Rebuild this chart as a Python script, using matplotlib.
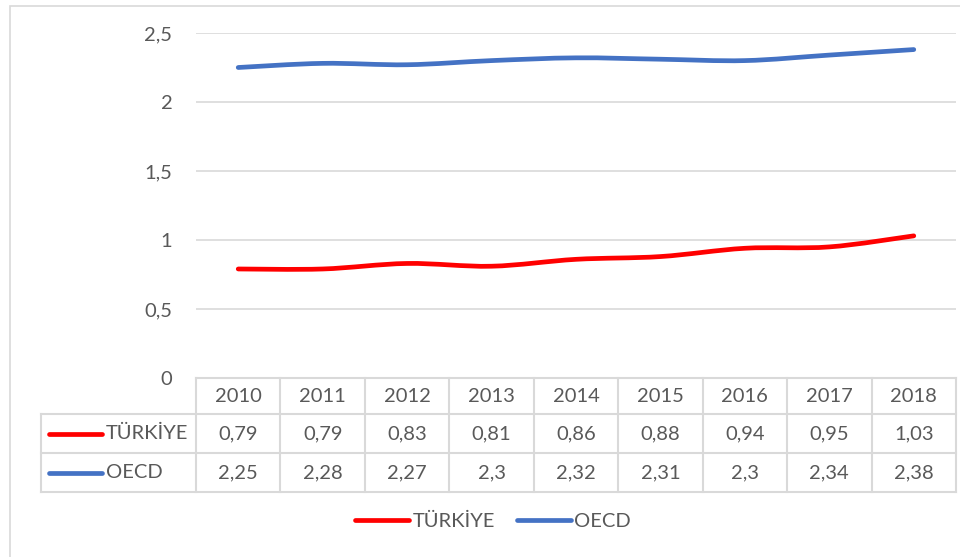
import numpy as np
import matplotlib
matplotlib.use("Agg")
import matplotlib.pyplot as plt
from matplotlib.path import Path
from matplotlib.patches import PathPatch, Rectangle
from matplotlib.lines import Line2D
import matplotlib.transforms as mtransforms

plt.rcParams['font.family'] = ['Lato', 'DejaVu Sans']

years = [2010, 2011, 2012, 2013, 2014, 2015, 2016, 2017, 2018]
turkiye = [0.79, 0.79, 0.83, 0.81, 0.86, 0.88, 0.94, 0.95, 1.03]
oecd = [2.25, 2.28, 2.27, 2.3, 2.32, 2.31, 2.3, 2.34, 2.38]
series_names = ["TÜRKİYE", "OECD"]
series_colors = ["#FF0000", "#4472C4"]

txt = "#595959"
grid = "#D9D9D9"
fs = 14.5

W, H = 960, 557
fig = plt.figure(figsize=(W / 100, H / 100), dpi=100)

def fx(px):
    return px / W

def fy(py):
    return (H - py) / H

# outer chart border
fig.patches.append(Rectangle((fx(9.5), fy(600)), 2, fy(5.5) - fy(600),
                             transform=fig.transFigure, fill=False,
                             edgecolor=grid, lw=1.2))

ax = fig.add_axes([fx(196), fy(378), fx(956) - fx(196), fy(33) - fy(378)])
ax.set_xlim(-0.5, len(years) - 0.5)
ax.set_ylim(0, 2.5)
for s in ax.spines.values():
    s.set_visible(False)
ax.set_xticks([])
ax.set_yticks(np.arange(0, 2.51, 0.5))
ax.set_yticklabels([f"{v:g}".replace('.', ',') for v in np.arange(0, 2.51, 0.5)],
                   color=txt, fontsize=fs)
ax.tick_params(axis='y', length=0, pad=17)
ax.yaxis.grid(True, color=grid, lw=1.2)
ax.set_axisbelow(True)


def smooth_path(xs, ys, t=1 / 6):
    # Catmull-Rom style bezier through the data points
    xs = np.asarray(xs, float)
    ys = np.asarray(ys, float)
    n = len(xs)
    verts = [(xs[0], ys[0])]
    codes = [Path.MOVETO]
    for i in range(n - 1):
        p0 = i - 1 if i > 0 else i
        p3 = i + 2 if i + 2 < n else i + 1
        c1 = (xs[i] + (xs[i + 1] - xs[p0]) * t, ys[i] + (ys[i + 1] - ys[p0]) * t)
        c2 = (xs[i + 1] - (xs[p3] - xs[i]) * t, ys[i + 1] - (ys[p3] - ys[i]) * t)
        verts += [c1, c2, (xs[i + 1], ys[i + 1])]
        codes += [Path.CURVE4] * 3
    return Path(verts, codes)


xpos = np.arange(len(years))
for vals, col, name in zip([turkiye, oecd], series_colors, series_names):
    patch = PathPatch(smooth_path(xpos, vals), fill=False, edgecolor=col,
                      lw=3.4, capstyle='round', joinstyle='round')
    ax.add_patch(patch)
    ax.plot([], [], color=col, lw=3.4, solid_capstyle='round', label=name)

# data table
bt = mtransforms.blended_transform_factory(ax.transData, fig.transFigure)
row_y = [378, 414, 453, 492]
tab_left = 41
lw_tab = 1.5
# horizontal lines
fig.lines.append(Line2D([fx(196), fx(956)], [fy(row_y[0])] * 2, color=grid, lw=lw_tab,
                        transform=fig.transFigure))
for yy in row_y[1:]:
    fig.lines.append(Line2D([fx(tab_left), fx(956)], [fy(yy)] * 2, color=grid, lw=lw_tab,
                            transform=fig.transFigure))
# vertical lines
fig.lines.append(Line2D([fx(tab_left)] * 2, [fy(row_y[1]), fy(row_y[3])], color=grid,
                        lw=lw_tab, transform=fig.transFigure))
for i in range(len(years) + 1):
    ax.add_line(Line2D([i - 0.5] * 2, [fy(row_y[0]), fy(row_y[3])], color=grid,
                       lw=lw_tab, transform=bt, clip_on=False))

for i, yr in enumerate(years):
    ax.text(i, fy((row_y[0] + row_y[1]) / 2), str(yr), transform=bt, ha='center',
            va='center', color=txt, fontsize=fs, clip_on=False)
for r, (vals, col, name) in enumerate(zip([turkiye, oecd], series_colors, series_names)):
    yc = fy((row_y[r + 1] + row_y[r + 2]) / 2)
    for i, v in enumerate(vals):
        ax.text(i, yc, f"{v:g}".replace('.', ','), transform=bt, ha='center',
                va='center', color=txt, fontsize=fs, clip_on=False)
    fig.lines.append(Line2D([fx(49), fx(102)], [yc, yc], color=col, lw=3.4,
                            solid_capstyle='round', transform=fig.transFigure))
    fig.text(fx(106), yc, name, ha='left', va='center', color=txt, fontsize=fs)

leg = fig.legend(loc='center', bbox_to_anchor=(fx(493), fy(521)), ncol=2,
                 frameon=False, fontsize=fs, handlelength=2.7, handletextpad=0.15,
                 columnspacing=1.1)
for t in leg.get_texts():
    t.set_color(txt)

fig.savefig("out.png", dpi=100, facecolor="white")
